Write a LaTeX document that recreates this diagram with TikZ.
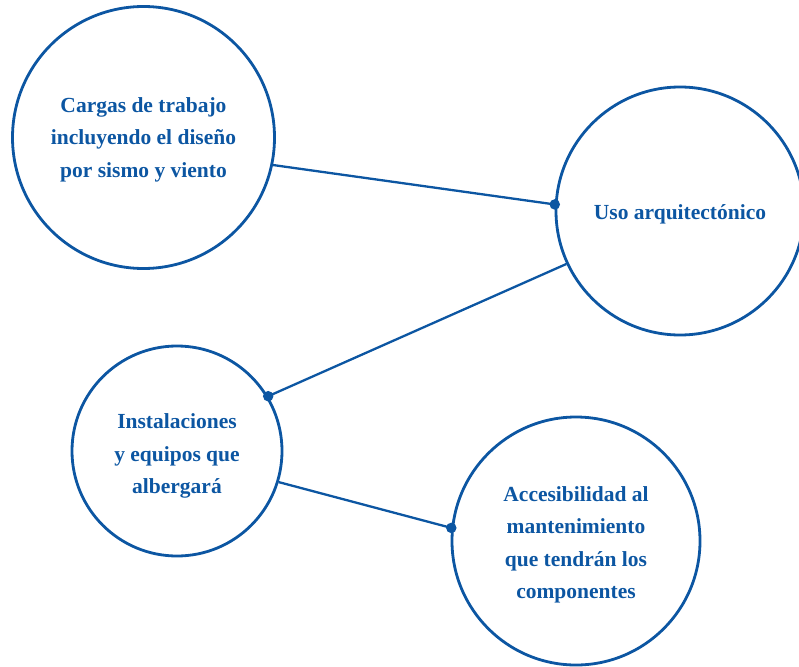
\documentclass[tikz,border=0pt]{standalone}
\usepackage{fontspec}
\setmainfont{Liberation Serif}
\definecolor{mblue}{HTML}{0C56A2}
\begin{document}
\begin{tikzpicture}[x=1pt,y=-1pt,
  bubble/.style={circle,draw=mblue,line width=2.8pt,inner sep=0pt},
  label text/.style={text=mblue,align=center,inner sep=0pt,font=\bfseries\fontsize{21.5}{32.5}\selectfont},
  link/.style={draw=mblue,line width=2.3pt},
  dot/.style={circle,fill=mblue,inner sep=0pt,minimum size=10.5pt}]
\useasboundingbox (0,0) rectangle (799,666);
\node[bubble,minimum size=262pt] (c1) at (143.5,137.5) {};
\node[bubble,minimum size=248pt] (c2) at (680,211) {};
\node[bubble,minimum size=210pt] (c3) at (177,451) {};
\node[bubble,minimum size=248pt] (c4) at (576,541) {};
\node[label text] (t1) at (143.5,139.5) {Cargas de trabajo\\incluyendo el diseño\\por sismo y viento};
\node[label text] (t2) at (680,214) {Uso arquitectónico};
\node[label text] (t3) at (177,456) {Instalaciones\\y equipos que\\albergará};
\node[label text] (t4) at (576,545) {Accesibilidad al\\mantenimiento\\que tendrán los\\componentes};
\node[dot] (d1) at (c2.177.5) {};
\node[dot] (d2) at (c3.31) {};
\node[dot] (d3) at (c4.174.5) {};
\draw[link] (c1.-12) -- (d1.center);
\draw[link] (c2.-155) -- (d2.center);
\draw[link] (c3.-17) -- (d3.center);
\end{tikzpicture}
\end{document}
